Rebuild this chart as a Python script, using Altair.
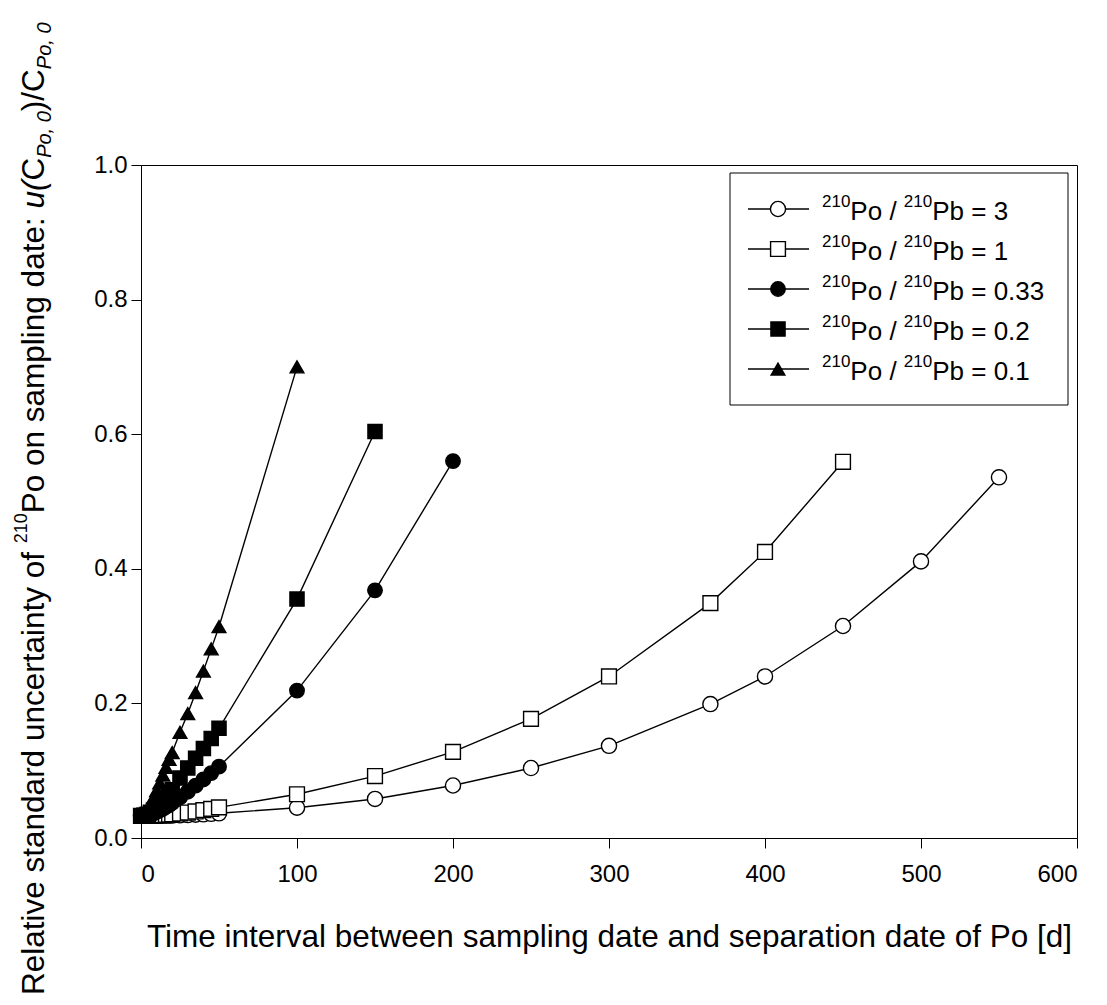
import altair as alt
import pandas as pd

# ---------------- data ----------------
ratios = ["3", "1", "0.33", "0.2", "0.1"]

x_early = [0, 2, 4, 6, 8, 10, 12, 14, 16, 18, 20, 25, 30, 35, 40, 45, 50]

x_r3 = x_early + [100, 150, 200, 250, 300, 365, 400, 450, 500, 550]
y_r3 = [0.033, 0.033, 0.0331, 0.0331, 0.0331, 0.0332, 0.0332, 0.0333, 0.0333,
        0.0334, 0.0334, 0.0337, 0.0341, 0.0346, 0.0352, 0.0359, 0.0367,
        0.045, 0.058, 0.078, 0.104, 0.137, 0.199, 0.240, 0.315, 0.411, 0.536]

x_r1 = x_early + [100, 150, 200, 250, 300, 365, 400, 450]
y_r1 = [0.033, 0.0330, 0.0331, 0.0332, 0.0334, 0.0336, 0.0338, 0.0341, 0.0344,
        0.0348, 0.0352, 0.0364, 0.0378, 0.0395, 0.0414, 0.0433, 0.0455,
        0.065, 0.092, 0.128, 0.177, 0.240, 0.349, 0.425, 0.559]

x_r033 = x_early + [100, 150, 200]
y_r033 = [0.033, 0.0332, 0.0340, 0.0351, 0.0367, 0.0387, 0.0409, 0.0434, 0.0461,
          0.0490, 0.0521, 0.0602, 0.0688, 0.0778, 0.0870, 0.0964, 0.106,
          0.219, 0.368, 0.560]

x_r02 = x_early + [100, 150]
y_r02 = [0.033, 0.0336, 0.0354, 0.0381, 0.0417, 0.0459, 0.0505, 0.0555, 0.0608,
         0.0662, 0.0718, 0.089, 0.104, 0.1185, 0.133, 0.148, 0.163,
         0.355, 0.604]

x_r01 = x_early + [100]
y_r01 = [0.033, 0.0353, 0.0414, 0.0499, 0.0598, 0.0706, 0.0818, 0.0934, 0.105,
         0.117, 0.127, 0.157, 0.185, 0.216, 0.248, 0.281, 0.314,
         0.700]

x_ticks = [0, 100, 200, 300, 400, 500, 600]
y_ticks = [0.0, 0.2, 0.4, 0.6, 0.8, 1.0]

shapes = ["circle", "square", "circle", "square", "triangle-up"]
fills = ["white", "white", "black", "black", "black"]
sizes = [230, 190, 230, 190, 290]

x_title = "Time interval between sampling date and separation date of Po [d]"

# ---------------- layout constants ----------------
W, H = 936, 673
FONT = "Liberation Sans"

rows = []
for k, (r, xs, ys) in enumerate(zip(ratios, [x_r3, x_r1, x_r033, x_r02, x_r01],
                                    [y_r3, y_r1, y_r033, y_r02, y_r01])):
    for xv, yv in zip(xs, ys):
        rows.append({"series": r, "k": k, "x": xv, "y": yv})
df = pd.DataFrame(rows)

# Arial / Liberation Sans advance widths (per 1000 em)
AW = {' ': 278, '(': 333, ')': 333, ',': 278, '.': 278, '/': 278, ':': 278, '=': 584,
      '[': 278, ']': 278, 'C': 722, 'P': 667, 'R': 722, 'T': 611,
      'a': 556, 'b': 556, 'c': 500, 'd': 556, 'e': 556, 'f': 278, 'g': 556, 'h': 556,
      'i': 222, 'l': 222, 'm': 833, 'n': 556, 'o': 556, 'p': 556, 'r': 333, 's': 500,
      't': 278, 'u': 556, 'v': 500, 'w': 722, 'y': 500}


def tw(s, fs):
    return sum(AW.get(c, 556) for c in s) * fs / 1000.0


def compose(runs, start, base, sizes_, shifts, vertical):
    out = []
    pos = start
    for text, kind, italic in runs:
        fs = sizes_[kind]
        if vertical:
            out.append({"px": base + shifts[kind], "py": pos, "txt": text, "fs": fs, "it": italic})
            pos -= tw(text, fs)
        else:
            out.append({"px": pos, "py": base + shifts[kind], "txt": text, "fs": fs, "it": italic})
            pos += tw(text, fs)
    return out


# y-axis title (rotated), composed of runs with super/subscripts
title_runs = [
    ("Relative standard uncertainty of ", "main", False),
    ("210", "sup", False),
    ("Po on sampling date: ", "main", False),
    ("u(", "main", True),
    ("C", "main", False),
    ("Po, 0", "sub", True),
    (")/C", "main", False),
    ("Po, 0", "sub", True),
]
title_pieces = compose(title_runs, start=830, base=-97,
                       sizes_={"main": 31.5, "sup": 18, "sub": 20},
                       shifts={"main": 0, "sup": -17, "sub": 7}, vertical=True)
title_df = pd.DataFrame(title_pieces)

# custom legend
leg_rows = []
leg_text = []
for i, r in enumerate(ratios):
    ly = 44 + 40 * i
    leg_rows.append({"series": r, "lx1": 607, "lx2": 668, "sx": 637, "ly": ly})
    leg_text += compose([("210", "sup", False), ("Po / ", "main", False),
                         ("210", "sup", False), ("Pb = " + r, "main", False)],
                        start=681, base=ly + 11,
                        sizes_={"main": 26, "sup": 17, "sub": 17},
                        shifts={"main": 0, "sup": -13, "sub": 5}, vertical=False)
leg_df = pd.DataFrame(leg_rows)
legtxt_df = pd.DataFrame(leg_text)
box_df = pd.DataFrame({"a": [0]})

# ---------------- chart ----------------
xs = alt.Scale(domain=[0, 600], nice=False, zero=False)
ys = alt.Scale(domain=[0, 1], nice=False, zero=False)
shape_scale = alt.Scale(domain=ratios, range=shapes)
fill_scale = alt.Scale(domain=ratios, range=fills)
size_scale = alt.Scale(domain=ratios, range=sizes)

base = alt.Chart(df)

lines = base.mark_line(color="black", strokeWidth=1.4).encode(
    x=alt.X("x:Q", scale=xs,
            axis=alt.Axis(values=x_ticks, title=x_title, titleY=108,
                          titleBaseline="alphabetic", labelPadding=14)),
    y=alt.Y("y:Q", scale=ys,
            axis=alt.Axis(values=y_ticks, format=".1f", title=None, labelPadding=4)),
    detail="series:N",
    order="x:Q",
)

points = base.mark_point(filled=True, stroke="black", strokeWidth=1.4, opacity=1).encode(
    x="x:Q",
    y="y:Q",
    shape=alt.Shape("series:N", scale=shape_scale, legend=None),
    fill=alt.Fill("series:N", scale=fill_scale, legend=None),
    size=alt.Size("series:N", scale=size_scale, legend=None),
    order="k:Q",
)

legend_box = alt.Chart(box_df).mark_rect(fill="white", stroke="black", strokeWidth=1).encode(
    x=alt.value(589), x2=alt.value(927), y=alt.value(8), y2=alt.value(240)
)

legend_lines = alt.Chart(leg_df).mark_rule(color="black", strokeWidth=1.4).encode(
    x=alt.X("lx1:Q", scale=None, axis=None),
    x2="lx2:Q",
    y=alt.Y("ly:Q", scale=None, axis=None),
)

legend_pts = alt.Chart(leg_df).mark_point(filled=True, stroke="black", strokeWidth=1.4, opacity=1).encode(
    x=alt.X("sx:Q", scale=None, axis=None),
    y=alt.Y("ly:Q", scale=None, axis=None),
    shape=alt.Shape("series:N", scale=shape_scale, legend=None),
    fill=alt.Fill("series:N", scale=fill_scale, legend=None),
    size=alt.Size("series:N", scale=size_scale, legend=None),
)


def text_layer(data, italic, angle):
    mk = dict(align="left", baseline="alphabetic", font=FONT, color="black")
    if italic:
        mk["fontStyle"] = "italic"
    if angle:
        mk["angle"] = angle
    return alt.Chart(data).mark_text(**mk).encode(
        x=alt.X("px:Q", scale=None, axis=None),
        y=alt.Y("py:Q", scale=None, axis=None),
        text="txt:N",
        size=alt.Size("fs:Q", scale=None, legend=None),
    )


legend_text = text_layer(legtxt_df, False, 0)
ytitle_n = text_layer(title_df[~title_df["it"]], False, 270)
ytitle_i = text_layer(title_df[title_df["it"]], True, 270)

chart = alt.layer(
    lines, points, legend_box, legend_lines, legend_pts, legend_text, ytitle_n, ytitle_i
).properties(
    width=W, height=H,
    autosize=alt.AutoSizeParams(type="none"),
    padding={"left": 133, "top": 157, "right": 22, "bottom": 162},
).configure_view(
    stroke="black", strokeWidth=1
).configure_axis(
    grid=False, domainColor="black", tickColor="black", labelColor="black",
    titleColor="black", labelFont=FONT, titleFont=FONT, labelFontSize=24,
    titleFontSize=31.5, titleFontWeight="normal", tickSize=10, domainWidth=1, tickWidth=1,
)

chart.save("out.html", embed_options={"renderer": "svg", "actions": False})
